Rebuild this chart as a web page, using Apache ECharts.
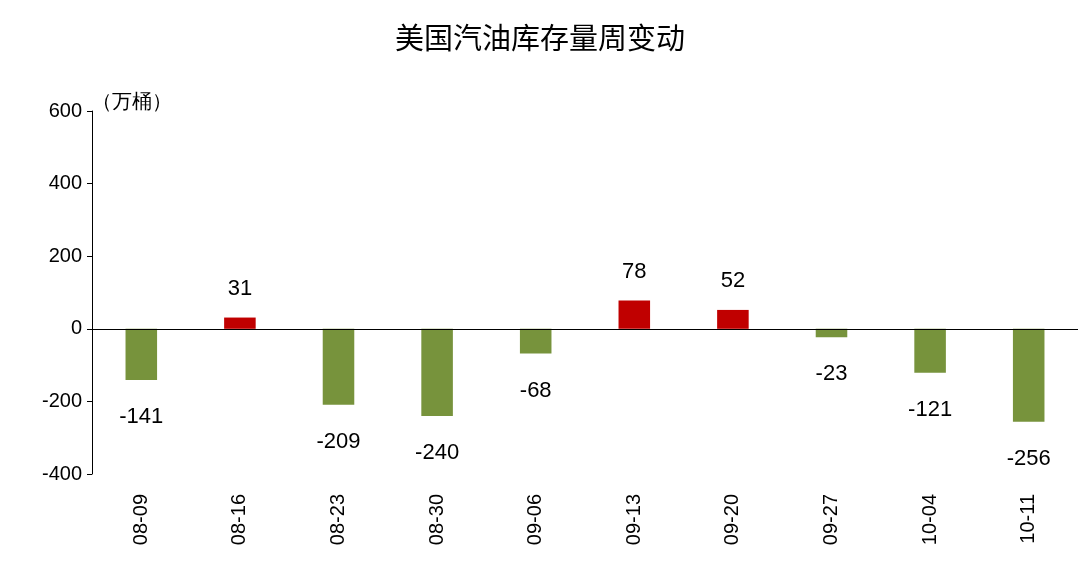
<!DOCTYPE html>
<html>
<head>
<meta charset="utf-8">
<script src="https://cdn.jsdelivr.net/npm/echarts@6/dist/echarts.min.js"></script>
<style>html,body{margin:0;padding:0;background:#fff}#chart{width:1080px;height:579px}</style>
</head>
<body>
<div id="chart"></div>
<script>
var categories = ['08-09','08-16','08-23','08-30','09-06','09-13','09-20','09-27','10-04','10-11'];
var values = [-141, 31, -209, -240, -68, 78, 52, -23, -121, -256];
var yTicks = [-400, -200, 0, 200, 400, 600];

var myChart = echarts.init(document.getElementById('chart'));
var font = 'Arial, "Liberation Sans", "Noto Sans CJK SC", sans-serif';
var option = {
    animation: false,
    title: {
        text: '美国汽油库存量周变动',
        left: 'center',
        top: 18,
        textStyle: {fontSize: 29, fontWeight: 'normal', color: '#000', fontFamily: '"Noto Sans CJK SC", sans-serif'}
    },
    graphic: [{
        type: 'text', left: 92, top: 92,
        style: {text: '（万桶）', fontSize: 20, fill: '#000', font: '20px "Noto Sans CJK SC", sans-serif'}
    }],
    grid: {left: 92, right: 2, top: 111, bottom: 105},
    xAxis: {
        type: 'category',
        data: categories,
        axisLine: {show: false},
        axisTick: {show: false},
        axisLabel: {rotate: 90, fontSize: 20, color: '#000', fontFamily: font, margin: 20}
    },
    yAxis: {
        type: 'value',
        min: yTicks[0], max: yTicks[yTicks.length - 1], interval: 200,
        splitLine: {show: false},
        axisLine: {show: true, lineStyle: {color: '#000'}},
        axisTick: {show: true, inside: false, length: 5, lineStyle: {color: '#000'}},
        axisLabel: {fontSize: 20, color: '#000', fontFamily: font, margin: 10}
    },
    series: [{
        type: 'bar',
        barWidth: '32%',
        markLine: {
            silent: true,
            symbol: 'none',
            label: {show: false},
            lineStyle: {color: '#000', width: 1, type: 'solid'},
            data: [{yAxis: 0}]
        },
        data: values.map(function (v) {
            return {
                value: v,
                itemStyle: {color: v >= 0 ? '#c00000' : '#77933c'},
                label: {show: true, position: v >= 0 ? 'top' : 'bottom', distance: v >= 0 ? 18 : 26,
                        fontSize: 22, color: '#000', fontFamily: font}
            };
        })
    }]
};
myChart.setOption(option);
window.addEventListener('resize', function () { myChart.resize(); }, false);
</script>
</body>
</html>
